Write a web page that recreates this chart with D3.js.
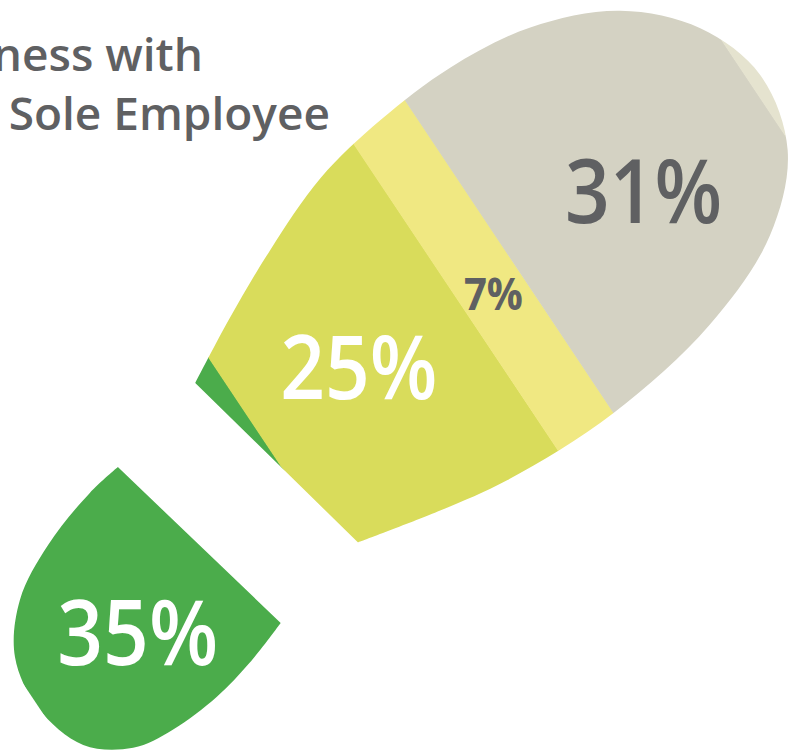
<!DOCTYPE html>
<html>
<head>
<meta charset="utf-8">
<script src="https://cdn.jsdelivr.net/npm/d3@7"></script>
<style>
  html, body { margin:0; padding:0; background:#fff; overflow:hidden; }
  svg { display:block; font-family:"Open Sans","Noto Sans",sans-serif; }
</style>
</head>
<body>
<script>
// chart data
var categories = ['Heel', 'Arch', 'Ball', 'Sole', 'Toe'];
var values = [35, 25, 7, 31, 2];
var labels = ['35%', '25%', '7%', '31%', ''];
var titleLines = ['ness with', 'Sole Employee'];

// styles
var colors = ['#4bac4b', '#d9dc5b', '#f0e882', '#d4d2c3', '#e5e3cf'];
var labelColors = ['#ffffff', '#ffffff', '#5f6062', '#5f6062', '#5f6062'];
var labelSizes = [90, 88, 45, 88, 0];
var labelWeights = [600, 600, 700, 600, 600];
var labelAcross = [603, 505, 518, 516, 0];   // label offset across the foot axis
var labelNarrow = 0.89;                       // labels are set a little condensed

var W = 798, H = 751;
var angle = -33.69;   // tilt of the foot axis

// footprint outline in foot-axis units (along, across)
var soleShape = [[-50,427],[15,392],[86,358],[168,326],[250,311],[337,306],[426,317],
  [510,353],[567,412],[591,484],[572,562],[510,623],[410,664],[281,684],[156,681],
  [83,669],[-3,650]];
var heelShape = [[-112,674],[-160,690],[-206,700],[-261,703],[-304,696],[-344,666],
  [-361,610],[-352,555],[-316,510],[-262,480],[-199,460],[-161,454]];

var svg = d3.select('body').append('svg')
  .attr('width', W).attr('height', H);

// along-the-foot scale: cumulative percent -> axis position
var x = d3.scaleLinear().domain([0, 100]).range([-360, 597]);
var across = d3.scaleLinear().domain([0, 1]).range([280, 720]);

var cum = d3.cumsum(values);
var data = values.map(function(v, i) {
  return {name: categories[i], value: v, label: labels[i], i: i,
          x0: cum[i] - v, x1: cum[i]};
});

var outline = d3.line().curve(d3.curveCatmullRom.alpha(0.5));

var defs = svg.append('defs');
var clip = defs.append('clipPath').attr('id', 'foot');
clip.append('path').attr('d', outline(soleShape) + 'Z');
clip.append('path').attr('d', outline(heelShape) + 'Z');

var g = svg.append('g').attr('transform', 'rotate(' + angle + ')');

g.append('g').attr('clip-path', 'url(#foot)')
  .selectAll('rect')
  .data(data)
  .enter()
  .append('rect')
    .attr('x', function(d) { return x(d.x0); })
    .attr('width', function(d) { return x(d.x1) - x(d.x0) + (d.i < data.length - 1 ? 0.5 : 0); })
    .attr('y', across(0))
    .attr('height', across(1) - across(0))
    .attr('fill', function(d) { return colors[d.i]; });

// labels: heel label in the middle of the heel, the rest at band middle
var heelAlong = d3.extent(heelShape, function(p) { return p[0]; });

g.append('g').selectAll('text')
  .data(data.filter(function(d) { return d.label; }))
  .enter()
  .append('text')
    .attr('transform', function(d) {
      var t = d.i === 0 ? d3.mean(heelAlong) : x((d.x0 + d.x1) / 2);
      return 'translate(' + t + ',' + labelAcross[d.i] + ') rotate(' + (-angle) + ')' +
             ' scale(' + labelNarrow + ',1)';
    })
    .attr('text-anchor', 'middle')
    .attr('dy', '0.36em')
    .attr('font-size', function(d) { return labelSizes[d.i] + 'px'; })
    .attr('font-weight', function(d) { return labelWeights[d.i]; })
    .attr('fill', function(d) { return labelColors[d.i]; })
    .text(function(d) { return d.label; });

// title, cut at the left edge as in the original
svg.append('g').selectAll('text')
  .data(titleLines)
  .enter()
  .append('text')
    .attr('x', function(d, i) { return i === 0 ? 203 : 330; })
    .attr('y', function(d, i) { return 71 + i * 59; })
    .attr('text-anchor', 'end')
    .attr('font-size', '46px')
    .attr('font-weight', 600)
    .attr('fill', '#5f6062')
    .text(function(d) { return d; });
</script>
</body>
</html>
